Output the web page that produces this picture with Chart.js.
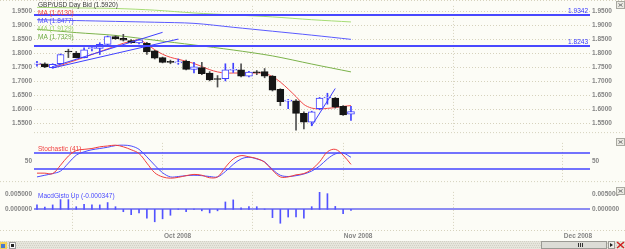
<!DOCTYPE html>
<html>
<head>
<meta charset="utf-8">
<script src="https://cdn.jsdelivr.net/npm/chart.js@4.4.1/dist/chart.umd.min.js"></script>
<style>
  html, body { margin: 0; padding: 0; background: #fcfcf6; overflow: hidden; }
  #wrap { position: relative; width: 625px; height: 249px; }
  canvas { position: absolute; left: 0; }
</style>
</head>
<body>
<div id="wrap">
  <canvas id="price" width="625" height="138" style="top:0px"></canvas>
  <canvas id="stoch" width="625" height="50" style="top:137px"></canvas>
  <canvas id="macd" width="625" height="63" style="top:186px"></canvas>
</div>
<script>
// daily GBP/USD candles, 9 Sep 2008 .. 4 Nov 2008 (one per trading day)
const opens  = [1.761,1.762,1.748,1.762,1.805,1.800,1.784,1.816,1.817,1.831,1.859,1.853,1.845,1.836,1.835,1.808,1.784,1.768,1.765,1.771,1.742,1.748,1.729,1.707,1.709,1.739,1.740,1.718,1.731,1.734,1.718,1.671,1.629,1.630,1.585,1.554,1.602,1.640,1.640,1.610,1.582];
const highs  = [1.771,1.765,1.762,1.797,1.814,1.806,1.819,1.826,1.837,1.861,1.862,1.867,1.848,1.850,1.838,1.810,1.786,1.775,1.779,1.775,1.767,1.767,1.734,1.720,1.762,1.764,1.762,1.735,1.738,1.745,1.720,1.673,1.635,1.634,1.591,1.593,1.642,1.657,1.642,1.613,1.610];
const lows   = [1.753,1.748,1.746,1.760,1.784,1.783,1.783,1.808,1.795,1.830,1.849,1.843,1.835,1.833,1.795,1.779,1.765,1.762,1.760,1.740,1.729,1.723,1.701,1.679,1.701,1.731,1.715,1.715,1.723,1.712,1.665,1.613,1.602,1.525,1.530,1.541,1.598,1.618,1.604,1.578,1.560];
const closes = [1.762,1.751,1.760,1.795,1.804,1.784,1.812,1.817,1.831,1.859,1.851,1.846,1.837,1.847,1.804,1.782,1.767,1.767,1.769,1.742,1.751,1.727,1.704,1.706,1.740,1.740,1.718,1.732,1.730,1.718,1.668,1.627,1.630,1.585,1.554,1.591,1.640,1.641,1.607,1.580,1.592];

// short moving average (red), one value per day
const maFast = [1.762,1.758,1.752,1.756,1.766,1.775,1.785,1.795,1.805,1.815,1.825,1.835,1.842,1.847,1.832,1.812,1.796,1.785,1.778,1.771,1.763,1.752,1.741,1.733,1.729,1.729,1.729,1.729,1.729,1.728,1.716,1.697,1.672,1.645,1.617,1.604,1.601,1.603,1.606,1.610,1.613];
// longer moving averages, read every 5 days
const maDays  = [0, 5, 10, 15, 20, 25, 30, 35, 40];
const maBlue  = [1.919, 1.916, 1.913, 1.910, 1.906, 1.892, 1.878, 1.864, 1.849];
const maLight = [1.963, 1.961, 1.959, 1.953, 1.943, 1.936, 1.929, 1.919, 1.911];
const maGreen = [1.885, 1.873, 1.863, 1.846, 1.829, 1.811, 1.790, 1.761, 1.733];

const levels = [1.9342, 1.8243];
// trend lines: [day, price, day, price]
const trendLines = [
  [1.9, 1.751, 16.0, 1.874],
  [2.0, 1.747, 18.0, 1.850],
  [35.0, 1.541, 38.0, 1.674]
];

const stochK = [21,21,20,40,62,75,78,80,84,86,88,84,77,68,45,22,12,9,11,15,18,16,10,12,35,55,63,60,56,47,28,12,12,17,20,30,48,72,78,64,42];
const stochD = [12,16,20,26,45,64,72,77,80,83,87,88,86,78,60,40,22,12,13,15,16,15,13,12,25,42,55,59,55,48,30,16,13,15,19,26,38,55,67,69,59];
const stochBands = [30, 70];

const macdHist = [0.0015,0.0008,0.0015,0.0033,0.0033,0.0009,0.0017,0.0015,0.0015,0.0023,0.0009,-0.0008,-0.0018,-0.0012,-0.0030,-0.0042,-0.0032,-0.0020,0.0001,-0.0008,0.0001,-0.0005,-0.0012,-0.0005,0.0025,0.0032,0.0005,0.0009,0.0009,0.0001,-0.0028,-0.0047,-0.0026,-0.0026,-0.0030,0.0009,0.0058,0.0053,0.0010,-0.0015,-0.000347];

const monthDays   = [16, 39, 67];
const monthLabels = ["Oct 2008", "Nov 2008", "Dec 2008"];
const priceTicks  = [1.55, 1.60, 1.65, 1.70, 1.75, 1.80, 1.85, 1.90, 1.95];
const stochTicks  = [50];
const macdTicks   = [0, 0.005];

const maNames = [
  ["GBP/USD Day Bid (1.5920)", "#3a3a3a"],
  ["MA (1.6130)", "#f03c3c"],
  ["MA (1.8477)", "#4a4aff"],
  ["MA (1.9129)", "#9ed36a"],
  ["MA (1.7329)", "#6aa83c"]
];

const BLUE = "#3f3fff";
const UP_BORDER = "#4141ff";
const DOWN = "#161616";
const GRID = "#d6d2bd";
const TICK_FONT = { family: "Liberation Sans", size: 6.5, weight: "bold" };
const TICK_COLOR = "#858585";

Chart.defaults.animation = false;
Chart.defaults.plugins.legend.display = false;
Chart.defaults.plugins.tooltip.enabled = false;

const xMin = -0.38, xMax = 70.45;

function xAxis(showLabels, h) {
  return {
    type: "linear", min: xMin, max: xMax, offset: false,
    afterBuildTicks: (s) => { s.ticks = monthDays.map((v) => ({ value: v })); },
    afterFit: (s) => { s.height = h; },
    grid: { color: GRID, drawTicks: false },
    border: { display: false, dash: [1, 2] },
    ticks: {
      display: showLabels, padding: 2, labelOffset: 15, maxRotation: 0, autoSkip: false,
      font: TICK_FONT, color: TICK_COLOR,
      callback: (v, i) => monthLabels[i]
    }
  };
}

function yAxis(pos, min, max, tickVals, digits, grid) {
  return {
    position: pos, min: min, max: max,
    afterBuildTicks: (s) => { s.ticks = tickVals.map((v) => ({ value: v })); },
    afterFit: (s) => { s.width = pos === "left" ? 34 : 35; },
    grid: { display: grid, color: GRID, drawTicks: false, drawOnChartArea: grid },
    border: { display: false, dash: [1, 2] },
    ticks: {
      padding: 2, font: TICK_FONT, color: TICK_COLOR,
      callback: (v) => Number(v).toFixed(digits)
    }
  };
}

function dotted(ctx, x1, y1, x2, y2) {
  ctx.save();
  ctx.strokeStyle = GRID; ctx.lineWidth = 1; ctx.setLineDash([1, 2]);
  ctx.beginPath(); ctx.moveTo(x1, y1); ctx.lineTo(x2, y2); ctx.stroke();
  ctx.restore();
}

function panelIcon(ctx, x, y) {
  ctx.save();
  ctx.fillStyle = "#ecebe4"; ctx.strokeStyle = "#a8a8a0";
  ctx.fillRect(x + 0.5, y + 0.5, 8, 7); ctx.strokeRect(x + 0.5, y + 0.5, 8, 7);
  ctx.strokeStyle = "#777";
  ctx.beginPath(); ctx.moveTo(x + 2.5, y + 2.5); ctx.lineTo(x + 6.5, y + 5.5);
  ctx.moveTo(x + 6.5, y + 2.5); ctx.lineTo(x + 2.5, y + 5.5); ctx.stroke();
  ctx.restore();
}

const upDay = opens.map((o, i) => closes[i] >= o);

// ---------- price panel ----------
const pricePlugin = {
  id: "priceDecor",
  beforeDatasetsDraw(chart) {
    const { ctx, chartArea: a } = chart;
    dotted(ctx, a.left, a.bottom + 0.5, 625, a.bottom + 0.5);
    dotted(ctx, 0, 0.5, 625, 0.5);
  },
  afterDatasetsDraw(chart) {
    const { ctx, chartArea: a, scales } = chart;
    ctx.save();
    levels.forEach((lv) => {
      const py = Math.round(scales.y.getPixelForValue(lv));
      ctx.strokeStyle = "#4848ff"; ctx.lineWidth = 2;
      ctx.beginPath(); ctx.moveTo(a.left, py); ctx.lineTo(a.right, py); ctx.stroke();
      ctx.fillStyle = "#3434ff";
      ctx.font = "6.5px 'Liberation Sans'";
      ctx.textAlign = "right"; ctx.textBaseline = "bottom";
      ctx.fillText(lv.toFixed(4), a.right - 2, py - 1);
    });
    ctx.font = "6.5px 'Liberation Sans'";
    ctx.textAlign = "left"; ctx.textBaseline = "middle";
    maNames.forEach(([txt, col], k) => {
      ctx.fillStyle = col;
      ctx.fillText(txt, a.left + 4, 5 + k * 8);
    });
    ctx.restore();
    panelIcon(ctx, 616, 1);
  }
};

const candleBodies = opens.map((o, i) => ({ x: i, y: [o, closes[i]] }));
const candleWicks = lows.map((l, i) => ({ x: i, y: [l, highs[i]] }));

new Chart(document.getElementById("price"), {
  type: "bar",
  data: {
    datasets: [
      {
        type: "bar", data: candleBodies, grouped: false, order: 1,
        barThickness: 7, minBarLength: 1, borderWidth: 1, borderSkipped: false,
        backgroundColor: upDay.map((u) => (u ? "#ffffff" : DOWN)),
        borderColor: upDay.map((u) => (u ? UP_BORDER : DOWN))
      },
      {
        type: "bar", data: candleWicks, grouped: false, order: 2,
        barThickness: 1, borderWidth: 0,
        backgroundColor: upDay.map((u) => (u ? UP_BORDER : "#505050"))
      },
      {
        type: "line", order: 3, data: maFast.map((v, i) => ({ x: i, y: v })),
        borderColor: "#f24848", borderWidth: 1, pointRadius: 0, tension: 0.35
      },
      {
        type: "line", order: 3, data: maDays.map((d, k) => ({ x: d, y: maBlue[k] })),
        borderColor: "#5a5aff", borderWidth: 1, pointRadius: 0, tension: 0.3
      },
      {
        type: "line", order: 3, data: maDays.map((d, k) => ({ x: d, y: maLight[k] })),
        borderColor: "#a6dc74", borderWidth: 1, pointRadius: 0, tension: 0.3
      },
      {
        type: "line", order: 3, data: maDays.map((d, k) => ({ x: d, y: maGreen[k] })),
        borderColor: "#7bb24a", borderWidth: 1, pointRadius: 0, tension: 0.3
      },
      ...trendLines.map((t) => ({
        type: "line", order: 0,
        data: [{ x: t[0], y: t[1] }, { x: t[2], y: t[3] }],
        borderColor: BLUE, borderWidth: 1, pointRadius: 0
      }))
    ]
  },
  options: {
    responsive: false,
    layout: { padding: { top: 1, left: 0, right: 0, bottom: 0 } },
    scales: {
      x: xAxis(false, 1),
      y: yAxis("left", 1.5185, 1.9682, priceTicks, 4, true),
      y2: yAxis("right", 1.5185, 1.9682, priceTicks, 4, false)
    }
  },
  plugins: [pricePlugin]
});

// ---------- stochastic panel ----------
const stochPlugin = {
  id: "stochDecor",
  beforeDatasetsDraw(chart) {
    const { ctx, chartArea: a, scales } = chart;
    ctx.save();
    ctx.strokeStyle = "#4444ff"; ctx.lineWidth = 1.5;
    stochBands.forEach((b) => {
      const py = Math.round(scales.y.getPixelForValue(b));
      ctx.beginPath(); ctx.moveTo(a.left, py); ctx.lineTo(a.right, py); ctx.stroke();
    });
    ctx.restore();
    dotted(ctx, 0, a.bottom + 0.5, 625, a.bottom + 0.5);
  },
  afterDatasetsDraw(chart) {
    const { ctx, chartArea: a } = chart;
    ctx.save();
    ctx.font = "6.5px 'Liberation Sans'";
    ctx.fillStyle = "#f03c3c"; ctx.textAlign = "left"; ctx.textBaseline = "middle";
    ctx.fillText("Stochastic (41)", a.left + 4, a.top + 6);
    ctx.restore();
    panelIcon(ctx, 616, 1);
  }
};

new Chart(document.getElementById("stoch"), {
  type: "line",
  data: {
    datasets: [
      { data: stochK.map((v, i) => ({ x: i, y: v })), borderColor: "#f03c3c", borderWidth: 1, pointRadius: 0, tension: 0.35 },
      { data: stochD.map((v, i) => ({ x: i, y: v })), borderColor: "#4a4aff", borderWidth: 1, pointRadius: 0, tension: 0.35 }
    ]
  },
  options: {
    responsive: false,
    layout: { padding: { top: 1, left: 0, right: 0, bottom: 0 } },
    scales: {
      x: xAxis(false, 1),
      y: yAxis("left", 2, 93.4, stochTicks, 0, false),
      y2: yAxis("right", 2, 93.4, stochTicks, 0, false)
    }
  },
  plugins: [stochPlugin]
});

// ---------- MACD panel ----------
const macdPlugin = {
  id: "macdDecor",
  beforeDatasetsDraw(chart) {
    const { ctx, chartArea: a, scales } = chart;
    const py = Math.round(scales.y.getPixelForValue(0));
    ctx.save();
    ctx.strokeStyle = "#8c8cf2"; ctx.lineWidth = 2;
    ctx.beginPath(); ctx.moveTo(a.left, py); ctx.lineTo(a.right, py); ctx.stroke();
    ctx.restore();
    dotted(ctx, 0, a.bottom + 0.5, 625, a.bottom + 0.5);
  },
  afterDatasetsDraw(chart) {
    const { ctx, chartArea: a } = chart;
    ctx.save();
    ctx.font = "6.5px 'Liberation Sans'";
    ctx.fillStyle = "#4a4aff"; ctx.textAlign = "left"; ctx.textBaseline = "middle";
    ctx.fillText("MacdGisto Up (-0.000347)", a.left + 4, a.top + 4);
    ctx.restore();
    panelIcon(ctx, 616, 1);
  },
  afterDraw(chart) {
    // bottom status / scroll strip
    const { ctx } = chart;
    const top = 55;
    ctx.save();
    ctx.fillStyle = "#e6e5dc";
    ctx.fillRect(0, top, 625, 8);
    ctx.fillStyle = "#d2d1c6";
    for (let x = 0; x < 625; x += 2) {
      for (let y = top; y < top + 8; y += 2) ctx.fillRect(x + ((y - top) % 4 ? 1 : 0), y, 1, 1);
    }
    // left icons
    ctx.fillStyle = "#f2d25a"; ctx.fillRect(0, top + 1, 7, 7);
    ctx.fillStyle = "#4a78d0"; ctx.fillRect(1, top + 3, 4, 4);
    ctx.fillStyle = "#fafafa"; ctx.fillRect(9, top + 1, 7, 7);
    ctx.strokeStyle = "#999"; ctx.strokeRect(9.5, top + 1.5, 6, 6);
    ctx.fillStyle = "#222"; ctx.fillRect(11, top + 3, 3, 3);
    // scrollbar
    ctx.fillStyle = "#dcdcd6"; ctx.fillRect(541, top, 66, 8);
    ctx.strokeStyle = "#9a9a94"; ctx.strokeRect(541.5, top + 0.5, 65, 7);
    ctx.fillStyle = "#333";
    [578, 580, 582].forEach((x) => ctx.fillRect(x, top + 2, 1, 4));
    ctx.fillStyle = "#eeeeea"; ctx.fillRect(608, top, 7, 8);
    ctx.strokeStyle = "#9a9a94"; ctx.strokeRect(608.5, top + 0.5, 6, 7);
    ctx.fillStyle = "#222";
    ctx.beginPath(); ctx.moveTo(610, top + 2); ctx.lineTo(613, top + 4); ctx.lineTo(610, top + 6); ctx.fill();
    ctx.strokeStyle = "#d02020"; ctx.lineWidth = 1.5;
    ctx.beginPath(); ctx.moveTo(617, top + 1); ctx.lineTo(624, top + 7);
    ctx.moveTo(624, top + 1); ctx.lineTo(617, top + 7); ctx.stroke();
    ctx.restore();
  }
};

new Chart(document.getElementById("macd"), {
  type: "bar",
  data: {
    datasets: [
      {
        data: macdHist.map((v, i) => ({ x: i, y: v })),
        backgroundColor: "#5252ff", barThickness: 1, borderWidth: 0, grouped: false
      }
    ]
  },
  options: {
    responsive: false,
    layout: { padding: { top: 1, left: 0, right: 0, bottom: 8 } },
    scales: {
      x: xAxis(true, 11),
      y: yAxis("left", -0.00698, 0.0059, macdTicks, 6, false),
      y2: yAxis("right", -0.00698, 0.0059, macdTicks, 6, false)
    }
  },
  plugins: [macdPlugin]
});
</script>
</body>
</html>
